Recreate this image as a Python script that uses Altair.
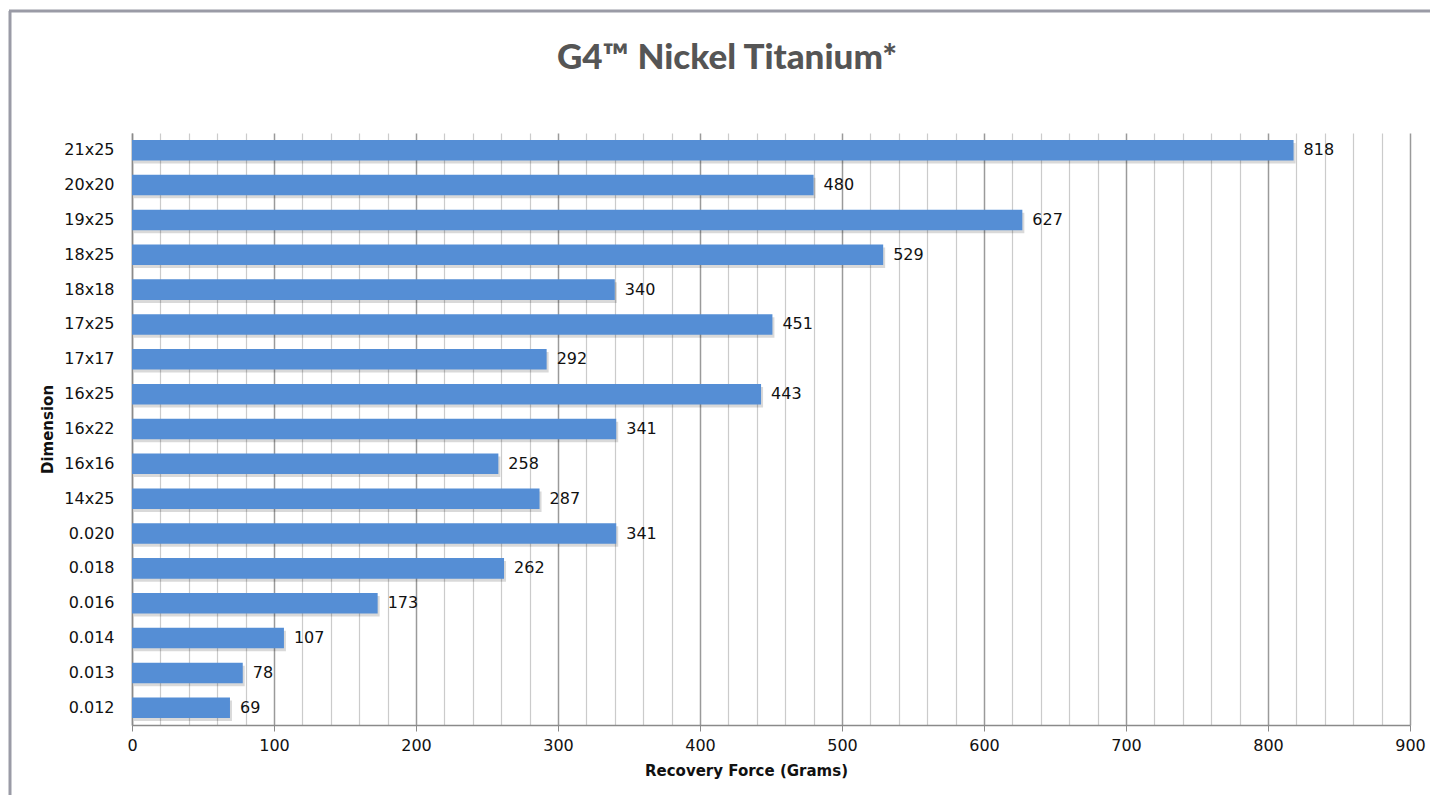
import altair as alt
import pandas as pd

dimensions = ["21x25", "20x20", "19x25", "18x25", "18x18", "17x25", "17x17", "16x25",
              "16x22", "16x16", "14x25", "0.020", "0.018", "0.016", "0.014", "0.013", "0.012"]
forces = [818, 480, 627, 529, 340, 451, 292, 443, 341, 258, 287, 341, 262, 173, 107, 78, 69]
x_ticks = list(range(0, 901, 20))
title_text = "G4\u2122 Nickel Titanium*"

df = pd.DataFrame({"Dimension": dimensions, "Force": forces})

W, H = 1278, 592
FONT = "DejaVu Sans"

y_enc = alt.Y("Dimension:N", sort=dimensions,
              scale=alt.Scale(paddingInner=0.41, paddingOuter=0.2),
              axis=alt.Axis(title="Dimension", ticks=False, labelPadding=18,
                            labelFontSize=16, labelFont=FONT, labelColor="#111",
                            titleFontSize=15, titleFont=FONT, titleFontWeight="bold",
                            titleColor="#111", titlePadding=8,
                            domainColor="#8a8a8a", domainWidth=1.5, grid=False))
x_enc = alt.X("Force:Q", scale=alt.Scale(domain=[0, 900], nice=False),
              axis=alt.Axis(title="Recovery Force (Grams)", values=x_ticks, tickCount=200,
                            labelExpr="datum.value % 100 === 0 ? datum.label : ''",
                            labelOverlap=False, labelBound=False,
                            labelFontSize=16, labelFont=FONT, labelColor="#111",
                            labelPadding=6, tickSize=6, tickColor="#8a8a8a",
                            tickOpacity={"condition": {"test": "datum.value % 100 === 0", "value": 1}, "value": 0},
                            gridColor={"condition": {"test": "datum.value % 100 === 0", "value": "#9a9a9a"}, "value": "#cbcbcb"},
                            gridWidth={"condition": {"test": "datum.value % 100 === 0", "value": 1.5}, "value": 1.2},
                            titleFontSize=15, titleFont=FONT, titleFontWeight="bold",
                            titleColor="#111", titlePadding=10, titleX=614,
                            domainColor="#8a8a8a", domainWidth=1.5, labelFlush=False))

base = alt.Chart(df)

shadow = base.mark_bar(color="#000000", opacity=0.15, xOffset=2, yOffset=3).encode(
    x=alt.X("Force:Q", scale=alt.Scale(domain=[0, 900], nice=False)),
    y=alt.Y("Dimension:N", sort=dimensions))
bars = base.mark_bar(color="#558ED5").encode(x=x_enc, y=y_enc)
labels = base.mark_text(align="left", baseline="middle", dx=10, fontSize=16,
                        font=FONT, color="#111").encode(
    x="Force:Q", y=alt.Y("Dimension:N", sort=dimensions), text="Force:Q")

one = pd.DataFrame({"t": [title_text]})
title = alt.Chart(one).mark_text(font="Lato", fontWeight=900, fontSize=35,
                                 color="#555555", align="center", baseline="alphabetic").encode(
    x=alt.value(595), y=alt.value(-64), text="t:N")

border_top = alt.Chart(one).mark_rule(color="#9a9ba6", strokeWidth=3).encode(
    x=alt.value(-123), x2=alt.value(1300), y=alt.value(-122))
border_left = alt.Chart(one).mark_rule(color="#9a9ba6", strokeWidth=3).encode(
    x=alt.value(-122), y=alt.value(-122), y2=alt.value(680))

chart = alt.layer(border_top, border_left, shadow, bars, labels, title).properties(
    width=W, height=H,
    autosize=alt.AutoSizeParams(type="none"),
    padding={"left": 124, "top": 125, "right": 20, "bottom": 70}
).configure_view(strokeWidth=0)

chart.save("out.html", embed_options={"renderer": "svg", "actions": False})
